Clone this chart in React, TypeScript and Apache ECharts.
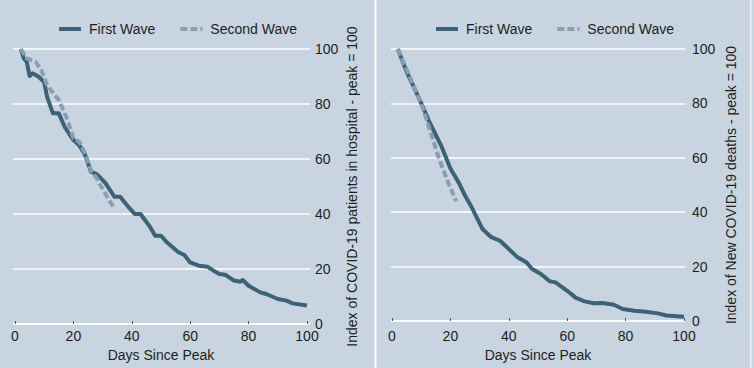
import React, { useEffect, useRef } from "react";
import * as echarts from "echarts";

const legendNames = ["First Wave", "Second Wave"];
const xTitle = "Days Since Peak";
const leftYTitle = "Index of COVID-19 patients in hospital - peak = 100";
const rightYTitle = "Index of New COVID-19 deaths - peak = 100";

const hospFirstDays = [2, 3, 4, 5, 6, 8, 10, 11, 13, 15, 17, 20, 22, 24, 26, 28, 31, 34, 36, 39, 41, 43, 46, 48, 50, 52, 56, 58, 60, 63, 66, 68, 70, 72, 75, 77, 78, 80, 84, 86, 90, 93, 95, 100];
const hospFirst = [100, 96.6, 95.4, 90.2, 91.2, 90, 88, 82.6, 76.6, 76.6, 71.7, 66.9, 65, 61.5, 55.4, 54.5, 51.2, 46.3, 46.3, 42.4, 40, 40, 35.7, 32.1, 32.1, 29.7, 26.1, 25.1, 22.4, 21.2, 20.8, 19.4, 18.2, 17.9, 15.8, 15.4, 16, 13.9, 11.5, 10.9, 9.1, 8.5, 7.5, 6.7];

const hospSecondDays = [2, 4, 7, 9, 11, 14, 15, 18, 20, 22, 24, 26, 28, 29, 31, 34];
const hospSecond = [100, 96.6, 95.4, 92.4, 86.9, 82.7, 81.5, 74.2, 67.5, 66.3, 62, 56, 53, 50.9, 47.3, 42];

const deathsFirstDays = [2, 5, 9, 13, 17, 20, 23, 25, 27, 29, 31, 34, 37, 40, 43, 46, 48, 51, 54, 56, 60, 63, 66, 69, 72, 76, 79, 83, 87, 91, 94, 100];
const deathsFirst = [100, 91.7, 82.5, 72.7, 64.1, 56.1, 50.6, 46.1, 42.4, 38.1, 33.8, 30.8, 29.5, 26.5, 23.4, 21.6, 19.1, 17.3, 14.6, 14.2, 11.1, 8.5, 7.2, 6.5, 6.6, 6, 4.4, 3.8, 3.4, 2.8, 2, 1.6];

const deathsSecondDays = [2, 6, 10, 13, 16, 19, 22];
const deathsSecond = [100, 90, 80, 70.2, 60, 51.5, 44];

const BG = "#c8d5e0";
const DARK = "#3c6277";
const LIGHT = "#889fb3";
const TXT = "#1e1e1e";
const FONT = "'Liberation Sans', Arial, sans-serif";

const pairs = (xs: number[], ys: number[]) => xs.map((x, i) => [x, ys[i]]);

export default function App() {
  const ref = useRef<HTMLDivElement>(null);
  useEffect(() => {
    if (!ref.current) return;
    const chart = echarts.init(ref.current, null, { renderer: "svg" });

    const bgGrid = (left: number, right: number, bottom: number) => ({ left, right, top: 49, bottom });
    const grids = [
      bgGrid(13, 444, 44),
      bgGrid(15, 447, 44),
      bgGrid(391, 69, 47),
      bgGrid(392, 70, 47),
    ];

    const bgX = (gi: number) => ({ type: "value", gridIndex: gi, min: 0, max: 1, show: false });
    const dataX = (gi: number, margin: number, gap: number) => ({
      type: "value",
      gridIndex: gi,
      min: 0,
      max: 100,
      interval: 20,
      name: xTitle,
      nameLocation: "middle",
      nameGap: gap,
      nameTextStyle: { color: TXT, fontSize: 14, fontFamily: FONT },
      axisLine: { show: true, lineStyle: { color: "#ffffff", width: 1.5 } },
      axisTick: { show: true, inside: true, length: 3, lineStyle: { color: "#555555", width: 1 } },
      axisLabel: { color: TXT, fontSize: 14, fontFamily: FONT, margin },
      splitLine: { show: false },
    });
    const bgY = (gi: number, title: string, margin: number, gap: number) => ({
      type: "value",
      gridIndex: gi,
      position: "right",
      min: 0,
      max: 100,
      interval: 20,
      name: title,
      nameLocation: "middle",
      nameRotate: 90,
      nameGap: gap,
      nameTextStyle: { color: TXT, fontSize: 14, fontFamily: FONT },
      axisLine: { show: false },
      axisTick: { show: false },
      axisLabel: { color: TXT, fontSize: 14, fontFamily: FONT, margin },
      splitLine: { show: true, lineStyle: { color: "#ffffff", width: 1.5 } },
    });
    const dataY = (gi: number) => ({ type: "value", gridIndex: gi, min: 0, max: 100, show: false });

    const lineSeries = (name: string, gi: number, data: number[][], dashed: boolean) => ({
      type: "line",
      name,
      xAxisIndex: gi,
      yAxisIndex: gi,
      data,
      symbol: "none",
      showSymbol: false,
      smooth: false,
      lineStyle: {
        color: dashed ? LIGHT : DARK,
        width: 4,
        type: dashed ? [7, 3] : "solid",
        cap: "butt",
        join: "round",
      },
      itemStyle: { color: dashed ? LIGHT : DARK },
      z: dashed ? 3 : 2,
    });

    const legend = (left: number) => ({
      left,
      top: 22,
      padding: 0,
      data: legendNames,
      itemWidth: 22,
      itemHeight: 5,
      itemGap: 23,
      selectedMode: false,
      itemStyle: { opacity: 0 },
      lineStyle: { width: 4 },
      textStyle: { color: TXT, fontSize: 14, fontFamily: FONT, padding: [0, 0, 0, 3] },
    });

    chart.setOption({
      animation: false,
      backgroundColor: BG,
      textStyle: { fontFamily: FONT },
      grid: grids,
      xAxis: [bgX(0), dataX(1, 5, 16), bgX(2), dataX(3, 8, 18)],
      yAxis: [bgY(0, leftYTitle, 5, 35), dataY(1), bgY(2, rightYTitle, 7, 39), dataY(3)],
      legend: [legend(57), legend(434)],
      graphic: [
        { type: "rect", shape: { x: 374.5, y: 0, width: 2, height: 368 }, style: { fill: "#ffffff" }, z: 10 },
        { type: "rect", shape: { x: 750, y: 0, width: 1.5, height: 368 }, style: { fill: "#eef2f5" }, z: 10 },
      ],
      series: [
        lineSeries(legendNames[0], 1, pairs(hospFirstDays, hospFirst), false),
        lineSeries(legendNames[1], 1, pairs(hospSecondDays, hospSecond), true),
        lineSeries(legendNames[0], 3, pairs(deathsFirstDays, deathsFirst), false),
        lineSeries(legendNames[1], 3, pairs(deathsSecondDays, deathsSecond), true),
      ],
    });
    return () => chart.dispose();
  }, []);
  return (
    <div
      ref={ref}
      style={{ position: "fixed", left: 0, top: 0, width: 754, height: 368 }}
    />
  );
}
